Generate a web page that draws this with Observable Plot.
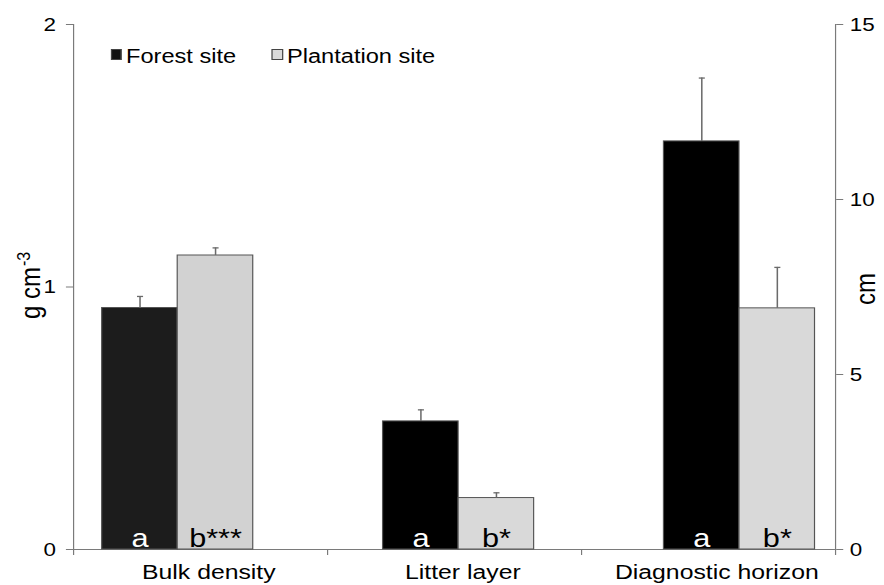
<!DOCTYPE html>
<html><head><meta charset="utf-8">
<script src="https://cdn.jsdelivr.net/npm/d3@7"></script>
<script src="https://cdn.jsdelivr.net/npm/@observablehq/plot@0.6"></script>
<style>
html,body{margin:0;padding:0;background:#fff;}
#wrap{position:relative;width:749px;height:585px;transform:scaleX(1.1802);transform-origin:0 0;font-family:"Liberation Sans",Arial,sans-serif;}
#wrap svg{position:absolute;left:0;top:0;overflow:visible;}
.leg{position:absolute;font-size:20px;line-height:20px;color:#000;white-space:nowrap;}
.sw{position:absolute;width:9.3px;height:11px;box-sizing:border-box;border:1px solid #444;}
</style></head><body><div id="wrap"></div>
<script>
const categories = ["Bulk density", "Litter layer", "Diagnostic horizon"];
const units = ["g cm-3", "cm", "cm"];
const sites = ["Forest site", "Plantation site"];
const forestMean = [0.92, 3.66, 11.66];
const forestSE = [0.044, 0.33, 1.81];
const plantationMean = [1.12, 1.47, 6.89];
const plantationSE = [0.029, 0.15, 1.17];
const forestLetters = ["a", "a", "a"];
const plantationLetters = ["b***", "b*", "b*"];
const leftTicks = [0, 1, 2];
const rightTicks = [0, 5, 10, 15];
const leftMax = 2, rightMax = 15;
const leftLabelMain = "g cm";
const leftLabelSup = "-3";
const rightLabel = "cm";

const k = leftMax / rightMax;
const norm = (v, i) => units[i] === "cm" ? v * k : v;
const rows = categories.flatMap((c, i) => [
  {category: c, site: sites[0], value: norm(forestMean[i], i), top: norm(forestMean[i] + forestSE[i], i), letter: forestLetters[i], idx: i},
  {category: c, site: sites[1], value: norm(plantationMean[i], i), top: norm(plantationMean[i] + plantationSE[i], i), letter: plantationLetters[i], idx: i}
]);

const W = 749, H = 585, s = 884 / W;
const ML = 73 / s, MR = W - 835 / s;
const font = "Liberation Sans, Arial, sans-serif";
const common = {width: W, height: H, marginTop: 24, marginBottom: 36, marginLeft: ML, marginRight: MR,
  style: {background: "transparent", fontFamily: font, overflow: "visible"}};
const axisColor = "#7a7a7a";
const errColor = "#6b6b6b";

const frame = Plot.plot({
  ...common,
  x: {domain: [0, categories.length], axis: null},
  y: {domain: [0, leftMax], axis: null},
  marks: [
    Plot.ruleY([0], {stroke: axisColor}),
    Plot.ruleX([0, categories.length], {stroke: axisColor, insetBottom: -6}),
    Plot.axisX({anchor: "bottom", ticks: d3.range(1, categories.length), tickSize: 6, tickFormat: () => "", stroke: axisColor, label: null}),
    Plot.axisX({anchor: "bottom", ticks: categories.map((c, i) => i + 0.5), tickSize: 0, tickPadding: 15, dx: 7,
      tickFormat: d => categories[Math.floor(d)], fontSize: 21, fill: "black", label: null}),
    Plot.axisY({anchor: "left", ticks: leftTicks, tickFormat: d => String(d), tickSize: 6, tickPadding: 9, fontSize: 19, stroke: axisColor, fill: "black", label: null}),
    Plot.axisY({anchor: "right", ticks: rightTicks.map(v => v * k), tickFormat: d => String(Math.round(d / k)),
      tickSize: 6, tickPadding: 6, fontSize: 19, stroke: axisColor, fill: "black", label: null}),
    Plot.text([leftLabelMain], {frameAnchor: "left", rotate: -90, textAnchor: "end", lineAnchor: "middle", dx: -36, dy: -20, fontSize: 24, fill: "black"}),
    Plot.text([leftLabelSup], {frameAnchor: "left", rotate: -90, textAnchor: "start", lineAnchor: "middle", dx: -42, dy: -21, fontSize: 16, fill: "black"}),
    Plot.text([rightLabel], {frameAnchor: "right", rotate: -90, textAnchor: "middle", lineAnchor: "middle", dx: 26, dy: 2, fontSize: 24, fill: "black"})
  ]
});

const cap = {draw(context, size) { const w = Math.sqrt(size); context.moveTo(-w, 0); context.lineTo(w, 0); }};
const barFill = d => d.site === sites[0] ? (d.idx === 0 ? "#1c1c1c" : "#000000") : (d.idx === 0 ? "#d2d2d2" : "#d9d9d9");

const bars = Plot.plot({
  ...common,
  fx: {domain: categories, paddingInner: 0.457, paddingOuter: 0.0797, align: 0.61, axis: null, label: null},
  x: {domain: sites, padding: 0, axis: null},
  y: {domain: [0, leftMax], axis: null},
  color: {type: "identity"},
  marks: [
    Plot.barY(rows, {fx: "category", x: "site", y: "value", fill: barFill, stroke: "#555", strokeWidth: 1}),
    Plot.ruleX(rows, {fx: "category", x: "site", y1: "value", y2: "top", stroke: errColor, strokeWidth: 1.3}),
    Plot.dot(rows, {fx: "category", x: "site", y: "top", symbol: cap, r: 1.45, stroke: errColor, strokeWidth: 1.3, fill: "none"}),
    Plot.text(rows, {fx: "category", x: "site", y: 0, text: "letter", fill: d => d.site === sites[0] ? "white" : "black",
      fontSize: 26, lineAnchor: "bottom", dy: -3})
  ]
});

const wrap = document.getElementById("wrap");
wrap.appendChild(frame);
wrap.appendChild(bars);

// legend
const legendItems = [
  {label: sites[0], fill: "#111", sx: 111 / s, tx: 126 / s},
  {label: sites[1], fill: "#d9d9d9", sx: 272 / s, tx: 287 / s}
];
for (const it of legendItems) {
  const sw = document.createElement("div");
  sw.className = "sw";
  sw.style.left = it.sx + "px"; sw.style.top = "49px"; sw.style.background = it.fill;
  wrap.appendChild(sw);
  const t = document.createElement("div");
  t.className = "leg";
  t.style.left = it.tx + "px"; t.style.top = "46px";
  t.textContent = it.label;
  wrap.appendChild(t);
}
</script></body></html>
